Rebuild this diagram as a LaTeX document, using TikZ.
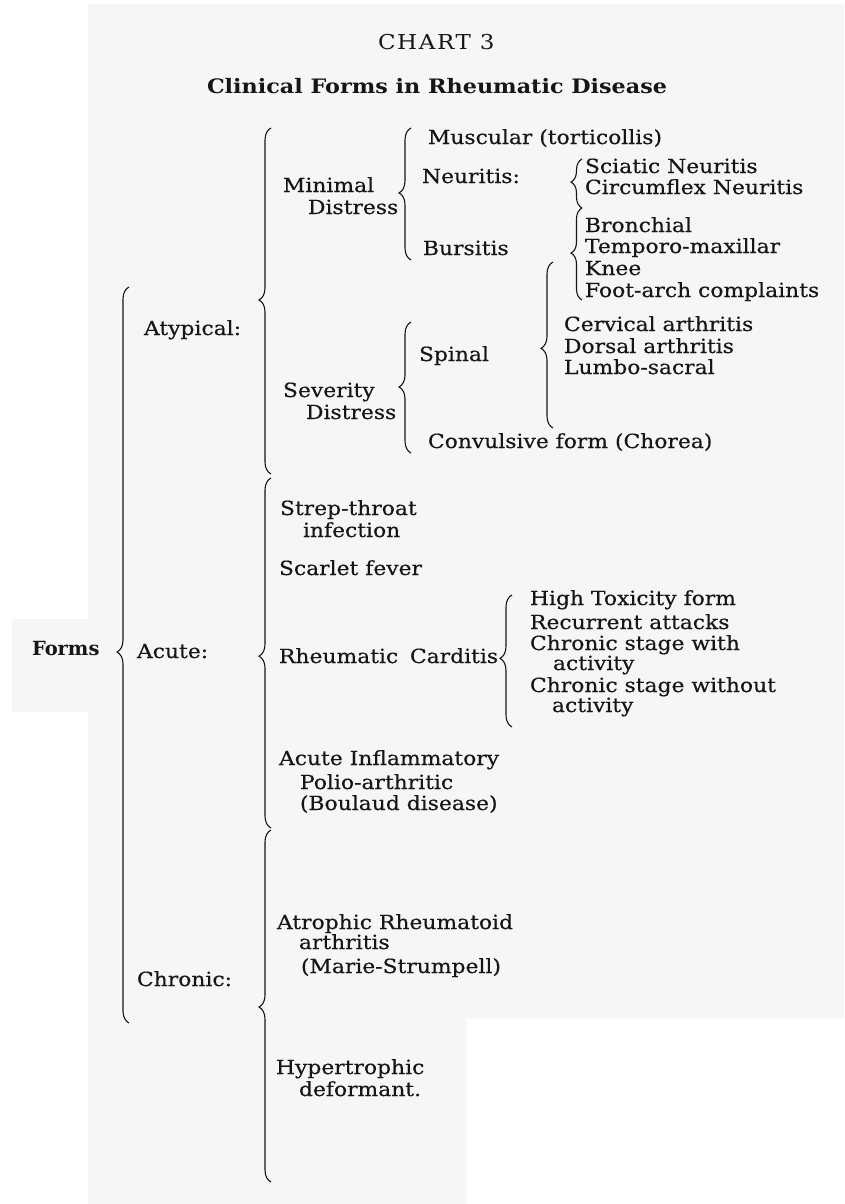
\documentclass[tikz,border=0pt]{standalone}
\usepackage{fontspec}
\setmainfont{DejaVu Serif}[FakeStretch=1.12]
\usetikzlibrary{decorations.pathreplacing}
\definecolor{paper}{RGB}{246,246,246}
\definecolor{ink}{RGB}{22,22,22}
\tikzset{
  txt/.style={anchor=base west, inner sep=0pt, outer sep=0pt, text=ink,
    font=\fontsize{19.5}{22}\selectfont\addfontfeature{FakeBold=0.4}},
  boldtxt/.style={txt, font=\bfseries\fontsize{19.5}{22}\selectfont},
  br/.style 2 args={decorate, draw=ink, line width=1.1pt,
    decoration={brace, amplitude=#1, aspect=#2}},
}
\begin{document}
\begin{tikzpicture}[x=1pt, y=-1pt]
\useasboundingbox (0,0) rectangle (844,1204);
\fill[white] (0,0) rectangle (844,1204);
% paper background
\fill[paper] (88,4) -- (844,4) -- (844,1018) -- (466,1018) -- (466,1204) -- (88,1204) -- cycle;
\fill[paper] (12,619) rectangle (88,712);

% titles
\node[txt, font=\fontsize{20.5}{24}\selectfont\addfontfeature{LetterSpace=8}] (chart) at (378,50) {CHART 3};
\node[txt, font=\bfseries\fontsize{19.9}{24}\selectfont] (title) at (207,94) {Clinical Forms in Rheumatic Disease};

% level 0
\node[boldtxt] (forms) at (32,655) {\scalebox{0.89}[1]{Forms}};

% level 1
\node[txt] (atyp) at (144,335) {Atypical:};
\node[txt] (acute) at (137,658) {Acute:};
\node[txt] (chron) at (137,986) {Chronic:};

% atypical children
\node[txt] (min1) at (283,192) {Minimal};
\node[txt] (min2) at (308,214) {Distress};
\node[txt] (sev1) at (283,397) {Severity};
\node[txt] (sev2) at (306,419) {Distress};

\node[txt] (musc) at (428,144) {Muscular (torticollis)};
\node[txt] (neur) at (422,183) {Neuritis:};
\node[txt] (burs) at (423,255) {Bursitis};
\node[txt] (sciat) at (585,173) {Sciatic Neuritis};
\node[txt] (circ) at (585,194) {Circumflex Neuritis};
\node[txt] (bron) at (585,232) {Bronchial};
\node[txt] (temp) at (585,253) {Temporo-maxillar};
\node[txt] (knee) at (585,275) {Knee};
\node[txt] (foot) at (585,297) {Foot-arch complaints};

\node[txt] (spin) at (419,361) {Spinal};
\node[txt] (cerv) at (564,331) {Cervical arthritis};
\node[txt] (dors) at (564,353) {Dorsal arthritis};
\node[txt] (lumb) at (564,374) {Lumbo-sacral};
\node[txt] (conv) at (428,448) {Convulsive form (Chorea)};

% acute children
\node[txt] (strep1) at (280,515) {Strep-throat};
\node[txt] (strep2) at (303,537) {infection};
\node[txt] (scar) at (279,575) {Scarlet fever};
\node[txt] (rheum) at (279,663) {Rheumatic};
\node[txt] (card) at (410,663) {Carditis};
\node[txt] (high) at (530,605) {High Toxicity form};
\node[txt] (recur) at (530,629) {Recurrent attacks};
\node[txt] (csw1) at (530,650) {Chronic stage with};
\node[txt] (csw2) at (553,670) {activity};
\node[txt] (cso1) at (530,692) {Chronic stage without};
\node[txt] (cso2) at (552,712) {activity};
\node[txt] (ai1) at (279,765) {Acute Inflammatory};
\node[txt] (ai2) at (300,789) {Polio-arthritic};
\node[txt] (ai3) at (300,810) {(Boulaud disease)};

% chronic children
\node[txt] (atr1) at (277,929) {Atrophic Rheumatoid};
\node[txt] (atr2) at (299,949) {arthritis};
\node[txt] (atr3) at (301,973) {(Marie-Strumpell)};
\node[txt] (hyp1) at (276,1074) {Hypertrophic};
\node[txt] (hyp2) at (299,1096) {deformant.};

% brace end points
\coordinate (fT) at (129,287);  \coordinate (fB) at (129,1023);
\coordinate (aT) at (271,128);  \coordinate (aB) at (271,474);
\coordinate (cT) at (271,478);  \coordinate (cB) at (271,828);
\coordinate (hT) at (271,830);  \coordinate (hB) at (271,1182);
\coordinate (mT) at (411,128);  \coordinate (mB) at (411,260);
\coordinate (sT) at (411,322);  \coordinate (sB) at (411,453);
\coordinate (nT) at (582,159);  \coordinate (nB) at (582,208);
\coordinate (bT) at (582,208);  \coordinate (bB) at (582,300);
\coordinate (pT) at (553,262);  \coordinate (pB) at (553,428);
\coordinate (kT) at (512,595);  \coordinate (kB) at (512,727);

\draw[br={12pt}{0.504}] (fB) -- (fT);
\draw[br={12pt}{0.503}] (aB) -- (aT);
\draw[br={12pt}{0.491}] (cB) -- (cT);
\draw[br={12pt}{0.497}] (hB) -- (hT);
\draw[br={12pt}{0.508}] (mB) -- (mT);
\draw[br={12pt}{0.504}] (sB) -- (sT);
\draw[br={11pt}{0.53}] (nB) -- (nT);
\draw[br={11pt}{0.51}] (bB) -- (bT);
\draw[br={12pt}{0.48}] (pB) -- (pT);
\draw[br={12pt}{0.52}] (kB) -- (kT);
\end{tikzpicture}
\end{document}
